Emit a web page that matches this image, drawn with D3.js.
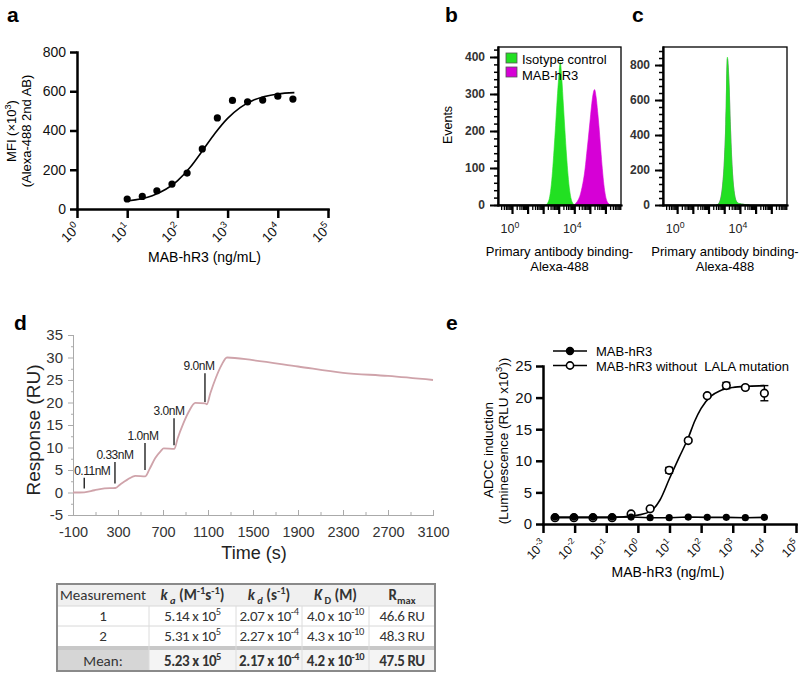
<!DOCTYPE html>
<html>
<head>
<meta charset="utf-8">
<script src="https://cdn.jsdelivr.net/npm/d3@7"></script>
<style>
  body { margin: 0; background: #fff; }
  svg { display: block; }
</style>
</head>
<body>
<script>
// ---- panel a: binding curve ----
const aConc = [10, 20, 39, 78, 156, 313, 625, 1250, 2500, 5000, 10000, 20000];
const aMFI = [51, 64, 93, 127, 183, 306, 464, 553, 546, 555, 575, 560];
const aFitConc = [10, 31.6, 100, 178, 316, 562, 1000, 1778, 3162, 10000, 21400];
const aFitMFI = [41, 67, 143, 211, 297, 386, 462, 517, 553, 586, 593];
const aYTicks = [0, 200, 400, 600, 800];
const aXExp = [0, 1, 2, 3, 4, 5];

// ---- panels b, c: flow histograms (bin = log10 channel) ----
const bIsoExp = [2.2, 2.3, 2.4, 2.5, 2.6, 2.7, 2.8, 2.9, 3.0, 3.1, 3.2, 3.3, 3.4, 3.5, 3.6, 3.7, 3.8, 3.9, 4.0];
const bIsoCount = [0, 6, 18, 45, 90, 150, 215, 285, 345, 385, 340, 270, 200, 135, 80, 40, 16, 5, 0];
const bMabExp = [4.0, 4.1, 4.2, 4.3, 4.4, 4.5, 4.6, 4.7, 4.8, 4.9, 5.0, 5.1, 5.2, 5.3, 5.4, 5.5, 5.6, 5.7, 5.8, 5.9, 6.0, 6.1, 6.2, 6.3];
const bMabCount = [0, 5, 10, 18, 30, 48, 70, 100, 140, 180, 222, 265, 298, 312, 292, 252, 205, 150, 98, 55, 26, 10, 4, 0];
const cIsoExp = [2.5, 2.6, 2.7, 2.8, 2.9, 3.0, 3.1, 3.2, 3.3, 3.4, 3.5, 3.6, 3.7, 3.8, 3.9, 4.0, 4.1, 4.2, 4.3, 4.4, 4.5, 4.6];
const cIsoCount = [0, 4, 15, 45, 110, 230, 460, 845, 700, 430, 220, 100, 40, 18, 10, 8, 6, 5, 3, 2, 1, 0];
const cMabCount = [0, 5, 18, 50, 120, 245, 470, 835, 720, 445, 230, 105, 42, 18, 10, 8, 6, 5, 3, 2, 1, 0];
const bYTicks = [0, 100, 200, 300, 400];
const cYTicks = [0, 200, 400, 600, 800];
const flowLabelExp = [0, 4];
const legendB = ["Isotype control", "MAB-hR3"];

// ---- panel d: SPR sensorgram ----
const dTime = [-100, 0, 90, 180, 276, 320, 380, 454, 543, 580, 630, 680, 706, 801, 830, 880, 930, 987, 1076, 1090, 1120, 1170, 1220, 1269, 1500, 1900, 2300, 2700, 3100];
const dResp = [0, 0.05, 0.5, 0.9, 1.0, 1.8, 2.8, 3.7, 3.6, 5.2, 7.6, 9.2, 9.8, 9.7, 12.0, 15.3, 18.0, 19.9, 19.8, 19.6, 22.0, 25.5, 28.3, 30, 29.4, 28.0, 26.6, 25.9, 25.0];
const dInjLabel = ["0.11nM", "0.33nM", "1.0nM", "3.0nM", "9.0nM"];
const dInjTime = [0, 273, 540, 798, 1073];
const dBarLow = [0.9, 2.0, 5.0, 10.5, 20.1];
const dBarHigh = [3.3, 6.8, 11.0, 16.5, 26.5];

// ---- kinetics table ----
const tblMeasure = ["1", "2", "Mean:"];
const tblKa = [[5.14, 5], [5.31, 5], [5.23, 5]];
const tblKd = [[2.07, -4], [2.27, -4], [2.17, -4]];
const tblKD = [[4.0, -10], [4.3, -10], [4.2, -10]];
const tblRmax = [46.6, 48.3, 47.5];

// ---- panel e: ADCC reporter ----
const eConc = [0.0024, 0.0095, 0.038, 0.153, 0.61, 2.44, 9.77, 39.1, 156, 625, 2500, 10000];
const eLala = [1.1, 1.1, 1.1, 1.1, 1.1, 1.0, 1.0, 1.1, 1.05, 1.05, 1.0, 1.05];
const eWt = [1.0, 1.0, 1.0, 1.0, 1.6, 2.4, 8.5, 13.2, 20.3, 21.9, 21.6, 20.7];
const eWtSem = [0, 0, 0, 0, 0.1, 0.1, 0.45, 0.2, 0.2, 0.5, 0.2, 1.2];
const eFitConc = [0.0024, 0.1, 0.316, 1, 2.5, 5, 10, 20, 38.9, 63, 100, 200, 400, 1000, 3162, 10000];
const eFitWt = [1.0, 1.0, 1.1, 1.4, 2.0, 3.8, 7.2, 10.5, 13.6, 16.3, 18.3, 20.2, 21.1, 21.6, 21.8, 21.9];
const eYTicks = [0, 5, 10, 15, 20, 25];
const eXExp = [-3, -2, -1, 0, 1, 2, 3, 4, 5];
const legendE = ["MAB-hR3", "MAB-hR3 without  LALA mutation"];

const FONT = "'Liberation Sans', Arial, sans-serif";
const GREEN = "#22e022", MAGENTA = "#d600d6";

const svg = d3.select("body").append("svg")
    .attr("width", 800)
    .attr("height", 679)
    .attr("font-family", FONT);

// text with super/subscript runs
function rich(sel, segs, fs) {
    let shift = 0;
    segs.forEach(s => {
        const off = s.sup ? -0.42 * fs : s.sub ? 0.28 * fs : 0;
        sel.append("tspan")
            .attr("dy", off - shift)
            .attr("font-size", (s.sup || s.sub) ? fs * 0.7 : fs)
            .attr("font-style", s.i ? "italic" : null)
            .attr("font-weight", s.b ? "bold" : null)
            .text(s.t);
        shift = off;
    });
    return sel;
}

function styleAxis(g, w, fs, color) {
    g.attr("font-family", FONT).attr("font-size", fs);
    g.select(".domain").attr("stroke", color).attr("stroke-width", w).attr("stroke-linecap", "square");
    g.selectAll(".tick line").attr("stroke", color).attr("stroke-width", w);
    g.selectAll(".tick text").attr("fill", "#111");
}

// panel letters
[["a", 7, 22], ["b", 445, 22], ["c", 632, 22], ["d", 14, 330], ["e", 446, 330]].forEach(([t, x, y]) => {
    svg.append("text").attr("x", x).attr("y", y)
        .attr("font-size", 21).attr("font-weight", "bold").text(t);
});

// ================= panel a =================
const ax = d3.scaleLog().domain([1, 1e5]).range([77, 328]);
const ay = d3.scaleLinear().domain([0, 800]).range([209, 52]);
const ga = svg.append("g");

ga.append("g").attr("transform", `translate(${ax.range()[0]},0)`)
    .call(d3.axisLeft(ay).tickValues(aYTicks).tickSize(7).tickSizeOuter(0).tickPadding(4))
    .call(styleAxis, 2.5, 14, "#000");
ga.append("g").attr("transform", `translate(0,${ay(0)})`)
    .call(d3.axisBottom(ax).tickValues(aXExp.map(e => 10 ** e)).tickSize(9).tickSizeOuter(0).tickFormat(""))
    .call(styleAxis, 2.5, 14, "#000");

aXExp.forEach(e => {
    const t = ga.append("text")
        .attr("transform", `translate(${ax(10 ** e) + 4},${ay(0) + 20}) rotate(-45)`)
        .attr("text-anchor", "end").attr("fill", "#111");
    rich(t, [{ t: "10" }, { t: String(e), sup: true }], 13.5);
});

ga.append("path")
    .datum(aFitConc.map((c, i) => [c, aFitMFI[i]]))
    .attr("fill", "none").attr("stroke", "#000").attr("stroke-width", 1.6)
    .attr("d", d3.line().x(d => ax(d[0])).y(d => ay(d[1])).curve(d3.curveMonotoneX));

ga.selectAll("circle.pt").data(aConc).enter().append("circle")
    .attr("cx", d => ax(d)).attr("cy", (d, i) => ay(aMFI[i]))
    .attr("r", 3.6).attr("fill", "#000");

ga.append("text").attr("x", (ax.range()[0] + ax.range()[1]) / 2 + 2).attr("y", 262)
    .attr("text-anchor", "middle").attr("font-size", 14).text("MAB-hR3 (ng/mL)");
const aTitle = ga.append("text").attr("transform", `translate(16,131) rotate(-90)`)
    .attr("text-anchor", "middle");
rich(aTitle, [{ t: "MFI (×10" }, { t: "3", sup: true }, { t: ")" }], 13);
ga.append("text").attr("transform", `translate(31,131) rotate(-90)`)
    .attr("text-anchor", "middle").attr("font-size", 13).text("(Alexa-488 2nd AB)");

// ================= panels b & c =================
function drawFlow(x0, x1, yMax, yTicks, minorStep, series) {
    const g = svg.append("g");
    const x = d3.scaleLog().domain([10 ** -0.9, 1e7]).range([x0, x1]);
    const y = d3.scaleLinear().domain([0, yMax]).range([205, 47]);

    const area = d3.area()
        .x(d => x(10 ** d[0])).y0(y(0)).y1(d => y(d[1]))
        .curve(d3.curveMonotoneX);
    series.forEach(s => {
        g.append("path").datum(s.exp.map((e, i) => [e, s.count[i]]))
            .attr("fill", s.color).attr("stroke", s.color).attr("stroke-width", 0.6)
            .attr("d", area);
    });

    g.append("rect").attr("x", x0).attr("y", 47).attr("width", x1 - x0).attr("height", 158)
        .attr("fill", "none").attr("stroke", "#000").attr("stroke-width", 1.3);

    // y ticks
    g.append("g").attr("transform", `translate(${x0},0)`)
        .call(d3.axisLeft(y).tickValues(d3.range(0, yMax, minorStep)).tickSize(4).tickSizeOuter(0).tickFormat(""))
        .call(styleAxis, 1.5, 12, "#000");
    g.append("g").attr("transform", `translate(${x0},0)`)
        .call(d3.axisLeft(y).tickValues(yTicks).tickSize(8).tickSizeOuter(0).tickPadding(5))
        .call(styleAxis, 2, 12, "#000")
        .selectAll(".tick text").attr("font-weight", "bold").attr("fill", "#333");

    // x ticks (log decades + minors)
    const minors = [];
    for (let k = -1; k <= 6; k++) for (let m = 2; m <= 9; m++) {
        const v = m * 10 ** k;
        if (v > x.domain()[0] && v < x.domain()[1]) minors.push(v);
    }
    const majors = d3.range(0, 7).map(k => 10 ** k);
    g.append("g").attr("transform", `translate(0,205)`)
        .call(d3.axisBottom(x).tickValues(minors).tickSize(5).tickSizeOuter(0).tickFormat(""))
        .call(styleAxis, 1.3, 11, "#000");
    g.append("g").attr("transform", `translate(0,205)`)
        .call(d3.axisBottom(x).tickValues(majors).tickSize(9).tickSizeOuter(0).tickFormat(""))
        .call(styleAxis, 2.2, 11, "#000");

    flowLabelExp.forEach(e => {
        const t = g.append("text").attr("x", x(10 ** e) - 2).attr("y", 233)
            .attr("text-anchor", "middle").attr("fill", "#222");
        rich(t, [{ t: "10" }, { t: String(e), sup: true }], 12.5);
    });

    const cx = (x0 + x1) / 2;
    g.append("text").attr("x", cx).attr("y", 256).attr("text-anchor", "middle")
        .attr("font-size", 13).text("Primary antibody binding-");
    g.append("text").attr("x", cx).attr("y", 271).attr("text-anchor", "middle")
        .attr("font-size", 13).text("Alexa-488");
    return g;
}

const gb = drawFlow(498, 621, 427, bYTicks, 20, [
    { exp: bIsoExp, count: bIsoCount, color: GREEN },
    { exp: bMabExp, count: bMabCount, color: MAGENTA }
]);
drawFlow(663, 787, 903, cYTicks, 40, [
    { exp: cIsoExp, count: cMabCount, color: "#a060a8" },
    { exp: cIsoExp, count: cIsoCount, color: GREEN }
]);

gb.append("text").attr("transform", "translate(452,125) rotate(-90)")
    .attr("text-anchor", "middle").attr("font-size", 12.5).text("Events");

[GREEN, MAGENTA].forEach((col, i) => {
    gb.append("rect").attr("x", 506).attr("y", 53 + i * 14).attr("width", 11).attr("height", 10)
        .attr("fill", col).attr("stroke", "#555").attr("stroke-width", 0.8);
    gb.append("text").attr("x", 522).attr("y", 64 + i * 15.5)
        .attr("font-size", 13).text(legendB[i]);
});

// ================= panel d =================
const dx = d3.scaleLinear().domain([-100, 3100]).range([73, 433]);
const dy = d3.scaleLinear().domain([-5, 35]).range([515, 335]);
const gd = svg.append("g");
const plain = d => String(d);

gd.append("g").attr("transform", `translate(${dx(-100)},0)`)
    .call(d3.axisLeft(dy).tickValues(d3.range(-2.5, 35, 5)).tickSize(2).tickSizeOuter(0).tickFormat(""))
    .call(styleAxis, 1, 14, "#aaa");
gd.append("g").attr("transform", `translate(${dx(-100)},0)`)
    .call(d3.axisLeft(dy).tickValues(d3.range(-5, 36, 5)).tickSize(5).tickSizeOuter(0).tickPadding(5).tickFormat(plain))
    .call(styleAxis, 1, 15, "#aaa")
    .selectAll(".tick text").attr("fill", "#333");
gd.append("g").attr("transform", `translate(0,${dy(-5)})`)
    .call(d3.axisBottom(dx).tickValues(d3.range(100, 3100, 400)).tickSize(-3).tickSizeOuter(0).tickFormat(""))
    .call(styleAxis, 1, 14, "#aaa");
gd.append("g").attr("transform", `translate(0,${dy(-5)})`)
    .call(d3.axisBottom(dx).tickValues(d3.range(-100, 3101, 400)).tickSize(-5).tickSizeOuter(0).tickPadding(12).tickFormat(plain))
    .call(styleAxis, 1, 14.5, "#aaa")
    .selectAll(".tick text").attr("fill", "#333");

gd.append("path")
    .datum(dTime.map((t, i) => [t, dResp[i]]))
    .attr("fill", "none").attr("stroke", "#cfa3aa").attr("stroke-width", 1.8)
    .attr("d", d3.line().x(d => dx(d[0])).y(d => dy(d[1])).curve(d3.curveMonotoneX));

const labelDx = [8, 0, -2, -5, -6];
dInjTime.forEach((t, i) => {
    gd.append("line")
        .attr("x1", dx(t)).attr("x2", dx(t))
        .attr("y1", dy(dBarLow[i])).attr("y2", dy(dBarHigh[i]))
        .attr("stroke", "#222").attr("stroke-width", 1.4);
    gd.append("text")
        .attr("x", dx(t) + labelDx[i]).attr("y", dy(dBarHigh[i]) - 3)
        .attr("text-anchor", "middle").attr("font-size", 12).attr("letter-spacing", -0.5)
        .attr("fill", "#222").text(dInjLabel[i]);
});

gd.append("text").attr("x", dx(1500) + 1).attr("y", 559).attr("text-anchor", "middle")
    .attr("font-size", 18).attr("fill", "#222").text("Time (s)");
gd.append("text").attr("transform", "translate(40,430) rotate(-90)").attr("text-anchor", "middle")
    .attr("font-size", 19).attr("fill", "#222").text("Response (RU)");

// ================= table =================
const gt = svg.append("g").attr("font-family", "Carlito, Lato, sans-serif");
const colX = [57, 149, 236, 302, 369, 435];
const rowY = [584, 606, 626, 646, 650, 671];
const TF = 15;

gt.append("rect").attr("x", colX[0]).attr("y", rowY[0]).attr("width", colX[5] - colX[0]).attr("height", rowY[1] - rowY[0])
    .attr("fill", "#f0f0f0");
gt.append("rect").attr("x", colX[0]).attr("y", rowY[3]).attr("width", colX[5] - colX[0]).attr("height", rowY[4] - rowY[3])
    .attr("fill", "#c8c8c8");
gt.append("rect").attr("x", colX[1]).attr("y", rowY[4]).attr("width", colX[5] - colX[1]).attr("height", rowY[5] - rowY[4])
    .attr("fill", "#f4f4f4");
gt.append("rect").attr("x", colX[0]).attr("y", rowY[4]).attr("width", colX[1] - colX[0]).attr("height", rowY[5] - rowY[4])
    .attr("fill", "#d6d6d6");
[rowY[1], rowY[2]].forEach(y => gt.append("line").attr("x1", colX[0]).attr("x2", colX[5])
    .attr("y1", y).attr("y2", y).attr("stroke", "#d8d8d8"));
colX.slice(1, 5).forEach(x => gt.append("line").attr("x1", x).attr("x2", x)
    .attr("y1", rowY[1]).attr("y2", rowY[5]).attr("stroke", "#dcdcdc"));
gt.append("rect").attr("x", colX[0]).attr("y", rowY[0]).attr("width", colX[5] - colX[0]).attr("height", rowY[5] - rowY[0])
    .attr("fill", "none").attr("stroke", "#8a8a8a").attr("stroke-width", 2);

const header = [
    [{ t: "Measurement" }],
    [{ t: "k", i: true, b: true }, { t: " a", sub: true, i: true, b: true }, { t: " (M", b: true }, { t: "-1", sup: true, b: true }, { t: "s", b: true }, { t: "-1", sup: true, b: true }, { t: ")", b: true }],
    [{ t: "k", i: true, b: true }, { t: " d", sub: true, i: true, b: true }, { t: " (s", b: true }, { t: "-1", sup: true, b: true }, { t: ")", b: true }],
    [{ t: "K", i: true, b: true }, { t: " D", sub: true, b: true }, { t: " (M)", b: true }],
    [{ t: "R", b: true }, { t: "max", sub: true, b: true }]
];
const colMid = i => (colX[i] + colX[i + 1]) / 2;
header.forEach((segs, i) => {
    const t = gt.append("text").attr("x", colMid(i)).attr("y", 600).attr("text-anchor", "middle").attr("fill", "#333");
    rich(t, segs, TF);
});

const sci = (v, digits, bold) => [{ t: `${v[0].toFixed(digits)} x 10`, b: bold }, { t: String(v[1]), sup: true, b: bold }];
const rowBase = [621, 641, 666];
tblMeasure.forEach((m, r) => {
    const bold = r === 2;
    const cells = [
        [{ t: m }],
        sci(tblKa[r], 2, bold),
        sci(tblKd[r], 2, bold),
        sci(tblKD[r], 1, bold),
        [{ t: `${tblRmax[r].toFixed(1)} RU`, b: bold }]
    ];
    cells.forEach((segs, i) => {
        const t = gt.append("text").attr("x", colMid(i)).attr("y", rowBase[r]).attr("text-anchor", "middle")
            .attr("fill", "#333").attr("letter-spacing", i > 0 ? -0.4 : 0);
        rich(t, segs, TF);
    });
});

// ================= panel e =================
const ex = d3.scaleLog().domain([1e-3, 1e5]).range([543, 796]);
const ey = d3.scaleLinear().domain([0, 25]).range([524, 366]);
const ge = svg.append("g");

ge.append("g").attr("transform", `translate(${ex.range()[0]},0)`)
    .call(d3.axisLeft(ey).tickValues(eYTicks).tickSize(7).tickSizeOuter(0).tickPadding(4))
    .call(styleAxis, 2.5, 15, "#000");
ge.append("g").attr("transform", `translate(0,${ey(0)})`)
    .call(d3.axisBottom(ex).tickValues(eXExp.map(e => 10 ** e)).tickSize(9).tickSizeOuter(0).tickFormat(""))
    .call(styleAxis, 2.5, 14, "#000");

eXExp.forEach(e => {
    const t = ge.append("text")
        .attr("transform", `translate(${ex(10 ** e) + 4},${ey(0) + 21}) rotate(-45)`)
        .attr("text-anchor", "end").attr("fill", "#111");
    rich(t, [{ t: "10" }, { t: String(e), sup: true }], 12.5);
});

ge.append("path")
    .datum(eConc.map((c, i) => [c, eLala[i]]))
    .attr("fill", "none").attr("stroke", "#000").attr("stroke-width", 1.6)
    .attr("d", d3.line().x(d => ex(d[0])).y(d => ey(d[1])));
ge.append("path")
    .datum(eFitConc.map((c, i) => [c, eFitWt[i]]))
    .attr("fill", "none").attr("stroke", "#000").attr("stroke-width", 1.6)
    .attr("d", d3.line().x(d => ex(d[0])).y(d => ey(d[1])).curve(d3.curveMonotoneX));

// error bars
eConc.forEach((c, i) => {
    if (eWtSem[i] < 0.15) return;
    const x = ex(c), y0 = ey(eWt[i] - eWtSem[i]), y1 = ey(eWt[i] + eWtSem[i]);
    ge.append("line").attr("x1", x).attr("x2", x).attr("y1", y0).attr("y2", y1).attr("stroke", "#000").attr("stroke-width", 1.4);
    [y0, y1].forEach(y => ge.append("line").attr("x1", x - 4).attr("x2", x + 4).attr("y1", y).attr("y2", y)
        .attr("stroke", "#000").attr("stroke-width", 1.4));
});

ge.selectAll("circle.open").data(eConc).enter().append("circle")
    .attr("cx", d => ex(d)).attr("cy", (d, i) => ey(eWt[i]))
    .attr("r", 3.8).attr("fill", "#fff").attr("stroke", "#000").attr("stroke-width", 1.6);
ge.selectAll("circle.fill").data(eConc).enter().append("circle")
    .attr("cx", d => ex(d)).attr("cy", (d, i) => ey(eLala[i]))
    .attr("r", 3.6).attr("fill", "#000");

// legend
legendE.forEach((lab, i) => {
    const y = 351 + i * 14.5;
    ge.append("line").attr("x1", 553).attr("x2", 587).attr("y1", y).attr("y2", y)
        .attr("stroke", "#000").attr("stroke-width", 1.6);
    ge.append("circle").attr("cx", 570).attr("cy", y).attr("r", i === 0 ? 3.4 : 3.6)
        .attr("fill", i === 0 ? "#000" : "#fff").attr("stroke", "#000").attr("stroke-width", 1.6);
    ge.append("text").attr("x", 596).attr("y", y + 5).attr("font-size", 13)
        .style("white-space", "pre").text(lab);
});

ge.append("text").attr("x", 668).attr("y", 577).attr("text-anchor", "middle")
    .attr("font-size", 14).text("MAB-hR3 (ng/mL)");
ge.append("text").attr("transform", "translate(493,450) rotate(-90)")
    .attr("text-anchor", "middle").attr("font-size", 13.5).text("ADCC induction");
const eTitle = ge.append("text").attr("transform", "translate(508,441) rotate(-90)")
    .attr("text-anchor", "middle");
rich(eTitle, [{ t: "(Luminescence (RLU x10" }, { t: "3", sup: true }, { t: "))" }], 13.5);
</script>
</body>
</html>
